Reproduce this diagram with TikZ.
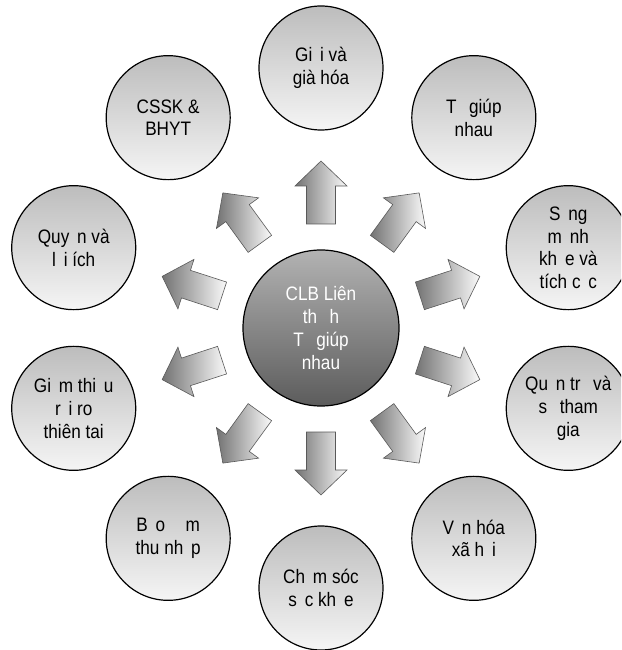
\documentclass[tikz,border=0pt]{standalone}
\usepackage{fontspec}
\setmainfont{Liberation Sans}[FakeStretch = 0.88]
\usetikzlibrary{shadings}
\newcommand{\gap}{\hspace{0.4em}}
\tikzset {
    topic/.style = {
        circle, draw, line width = 1.2pt,
        minimum size = 124pt, inner sep = 0pt,
        top color = black!26, bottom color = black!4,
        align = center, font = \fontsize{19.5}{22.7}\selectfont
    },
    hub/.style = {
        topic, minimum size = 156pt,
        top color = black!30, bottom color = black!64, text = white
    },
    arrow body/.style = {
        draw = black!65, line width = 0.6pt,
        left color = black!55, right color = black!2
    },
    block arrow/.pic = {
        \draw [arrow body] (104, -14.5) -- (142, -14.5) -- (142, -26) -- (167, 0)
            -- (142, 26) -- (142, 14.5) -- (104, 14.5) -- cycle;
    }
}
\begin{document}
\begin{tikzpicture}[x = 1pt, y = 1pt]
    \clip (-321, -322) rectangle (300, 328);
    \node (hub) [hub] at (0, 0) {CLB Liên\\th\gap{} h\gap\\T\gap{} giúp\\nhau};
    %
    \node (gioi) [topic] at (90:260) {Gi\gap i và\\già hóa};
    \node (tugiup) [topic] at (54:260) {T\gap{} giúp\\nhau};
    \node (song) [topic] at (18:260) {S\gap ng\\m\gap nh\\kh\gap e và\\tích c\gap c};
    \node (quantri) [topic] at (-18:260) {Qu\gap n tr\gap{} và\\s\gap{} tham\\gia};
    \node (vanhoa) [topic] at (-54:260) {V\gap n hóa\\xã h\gap i};
    \node (chamsoc) [topic] at (-90:260) {Ch\gap m sóc\\s\gap c kh\gap e};
    \node (baodam) [topic] at (-126:260) {B\gap o \gap\gap m\\thu nh\gap p};
    \node (giamthieu) [topic] at (-162:260) {Gi\gap m thi\gap u\\r\gap i ro\\thiên tai};
    \node (quyen) [topic] at (162:260) {Quy\gap n và\\l\gap i ích};
    \node (cssk) [topic] at (126:260) {CSSK \&\\BHYT};
    %
    \pic [rotate = 90] at (hub.center) {block arrow};
    \pic [rotate = 54] at (hub.center) {block arrow};
    \pic [rotate = 18] at (hub.center) {block arrow};
    \pic [rotate = -18] at (hub.center) {block arrow};
    \pic [rotate = -54] at (hub.center) {block arrow};
    \pic [rotate = -90] at (hub.center) {block arrow};
    \pic [rotate = -126] at (hub.center) {block arrow};
    \pic [rotate = -162] at (hub.center) {block arrow};
    \pic [rotate = 162] at (hub.center) {block arrow};
    \pic [rotate = 126] at (hub.center) {block arrow};
\end{tikzpicture}
\end{document}
